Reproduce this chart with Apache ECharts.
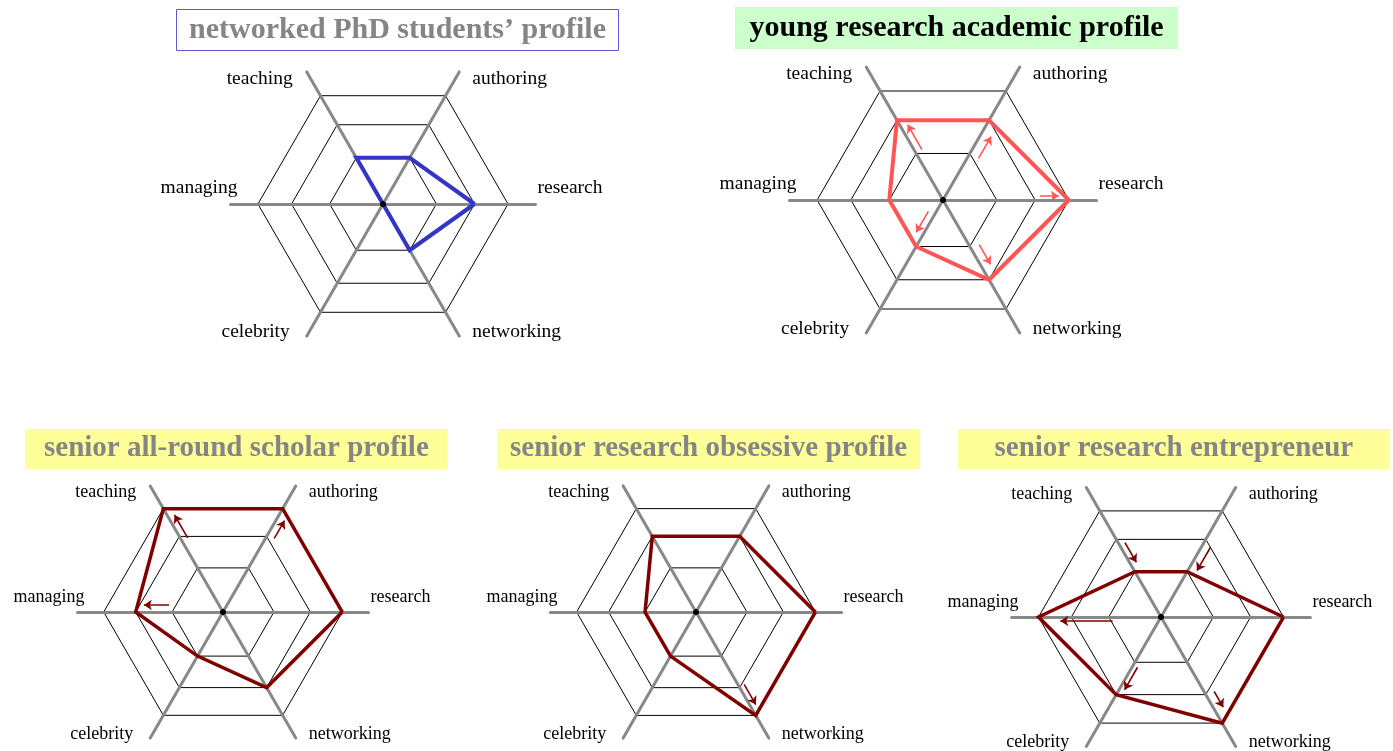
<!DOCTYPE html>
<html><head><meta charset="utf-8">
<script src="https://cdn.jsdelivr.net/npm/echarts@6/dist/echarts.min.js"></script>
<style>html,body{margin:0;padding:0;background:#fff}#c{width:1393px;height:751px}</style>
</head><body><div id="c"></div>
<script>
// ---------- data ----------
const axes = ['research', 'authoring', 'teaching', 'managing', 'celebrity', 'networking'];
const ringLevels = [35, 60, 82];
const axisMax = 100;
const titles = ['networked PhD students\u2019 profile', 'young research academic profile',
  'senior all-round scholar profile', 'senior research obsessive profile', 'senior research entrepreneur'];
const phdValues = [60, 35, 35, 0, 0, 35];
const youngValues = [82, 60, 60, 35, 35, 60];
const allRoundValues = [82, 82, 82, 60, 35, 60];
const obsessiveValues = [82, 60, 60, 35, 35, 82];
const entrepreneurValues = [82, 35, 35, 82, 60, 82];
// arrows: [axis index, from value, to value]
const phdArrows = [];
const youngArrows = [[2, 35.3, 53.9], [1, 35, 51.4], [0, 63, 75.4], [4, 11.2, 26.9], [5, 37, 51.8]];
const allRoundArrows = [[2, 56.3, 74.4], [1, 61.4, 75.5], [3, 37, 54.4]];
const obsessiveArrows = [[5, 59.6, 75.6]];
const entrepreneurArrows = [[2, 55.2, 40], [1, 56.8, 38.9], [3, 32.4, 67.4], [4, 37, 54.4], [5, 61, 73.1]];

const profiles = [phdValues, youngValues, allRoundValues, obsessiveValues, entrepreneurValues];
const arrowSets = [phdArrows, youngArrows, allRoundArrows, obsessiveArrows, entrepreneurArrows];

// ---------- layout & style ----------
const panels = [
  {cx: 383, cy: 204, r: 152.5, font: 19.5, shift: 16, color: '#3434c8', lw: 4,
   title: {left: 176, top: 9, fs: 30, pad: [6, 13, 6, 13], bg: '#ffffff', border: '#5a5ad8', tc: '#858585'}},
  {cx: 943, cy: 200, r: 153.5, font: 19.5, shift: 16, color: '#ff5555', lw: 4,
   title: {left: 735, top: 7, fs: 30, pad: [6, 14.5, 6, 14.5], bg: '#ccffcc', border: null, tc: '#000000'}},
  {cx: 223, cy: 612, r: 145.5, font: 18, shift: 15, color: '#800000', lw: 3.5,
   title: {left: 25, top: 429, fs: 29, pad: [5.5, 19, 5.5, 19], bg: '#ffff99', border: null, tc: '#858585'}},
  {cx: 696, cy: 612, r: 145.6, font: 18, shift: 15, color: '#800000', lw: 3.5,
   title: {left: 497, top: 429, fs: 29, pad: [5.5, 13, 5.5, 13], bg: '#ffff99', border: null, tc: '#858585'}},
  {cx: 1161, cy: 617, r: 149.4, font: 18, shift: 15, color: '#800000', lw: 3.5,
   title: {left: 958, top: 429, fs: 29, pad: [5.5, 36.5, 5.5, 36.5], bg: '#ffff99', border: null, tc: '#858585'}}
];
// perpendicular offset of each arrow from its axis, px (positive = clockwise side)
const arrowSide = [[], [7, 10, -4, 7, -9], [6.5, 7.6, 7], [-5.5], [6, 8, -4, -4.8, -8.8]];

const ringColors = [];
for (let i = 0; i <= axisMax; i++) ringColors.push(ringLevels.includes(i) ? '#000000' : 'rgba(0,0,0,0)');

function indicators(shift) {
  const styles = [
    {verticalAlign: 'bottom', lineHeight: 2 * shift, padding: [0, 0, 0, 2]},
    {verticalAlign: 'top', lineHeight: 13, padding: [0, 0, 0, 13]},
    {verticalAlign: 'top', lineHeight: 13, padding: [0, 14, 0, 0]},
    {verticalAlign: 'bottom', lineHeight: 2 * shift},
    {verticalAlign: 'bottom', lineHeight: 8, padding: [0, 17, 0, 0]},
    {verticalAlign: 'bottom', lineHeight: 8, padding: [0, 0, 0, 13]}
  ];
  return axes.map((name, i) => {
    const o = {name: name, min: 0, max: axisMax, nameTextStyle: styles[i]};
    if (i === 3) o.nameGap = -7;
    return o;
  });
}

const option = {
  animation: false,
  backgroundColor: '#ffffff',
  title: [], radar: [], polar: [], angleAxis: [], radiusAxis: [], series: []
};

panels.forEach((p, k) => {
  const t = p.title;
  option.title.push({
    text: titles[k], left: t.left, top: t.top, padding: t.pad,
    backgroundColor: t.bg, borderColor: t.border || 'transparent', borderWidth: t.border ? 1 : 0,
    textStyle: {fontFamily: 'Liberation Serif', fontWeight: 'bold', fontSize: t.fs, color: t.tc}
  });
  option.radar.push({
    center: [p.cx, p.cy], radius: p.r, startAngle: 0, shape: 'polygon', splitNumber: axisMax,
    indicator: indicators(p.shift), axisNameGap: 0,
    axisName: {color: '#000', fontFamily: 'Liberation Serif', fontSize: p.font},
    axisLine: {lineStyle: {color: '#888888', width: 3}},
    splitLine: {lineStyle: {color: ringColors, width: 1}},
    splitArea: {show: false}, axisTick: {show: false}, axisLabel: {show: false}
  });
  option.polar.push({center: [p.cx, p.cy], radius: p.r});
  option.angleAxis.push({polarIndex: k, type: 'value', min: 0, max: 360, startAngle: 0, clockwise: false, show: false});
  option.radiusAxis.push({polarIndex: k, type: 'value', min: 0, max: axisMax, show: false});

  option.series.push({
    type: 'radar', radarIndex: k, symbol: 'none', silent: true, z: 3,
    data: [{value: profiles[k], lineStyle: {color: p.color, width: p.lw, join: 'miter'}}]
  });
  option.series.push({
    type: 'radar', radarIndex: k, symbol: 'circle', symbolSize: 5, silent: true, z: 4,
    itemStyle: {color: '#000'}, lineStyle: {width: 0, opacity: 0},
    data: [{value: axes.map(() => 0)}]
  });
  if (arrowSets[k].length) {
    option.series.push({
      type: 'lines', coordinateSystem: 'polar', polarIndex: k, silent: true, z: 3,
      symbol: ['none', 'arrow'], symbolSize: 8,
      lineStyle: {color: p.color, width: 1.6, opacity: 1, curveness: 0},
      data: arrowSets[k].map((a, j) => {
        const theta = a[0] * 60;
        const dv = arrowSide[k][j] / p.r * axisMax;
        const pt = v => [Math.sqrt(v * v + dv * dv), theta - Math.atan2(dv, v) * 180 / Math.PI];
        return {coords: [pt(a[1]), pt(a[2])]};
      })
    });
  }
});

const chart = echarts.init(document.getElementById('c'), null, {renderer: 'canvas'});
chart.setOption(option);
</script>
</body></html>
